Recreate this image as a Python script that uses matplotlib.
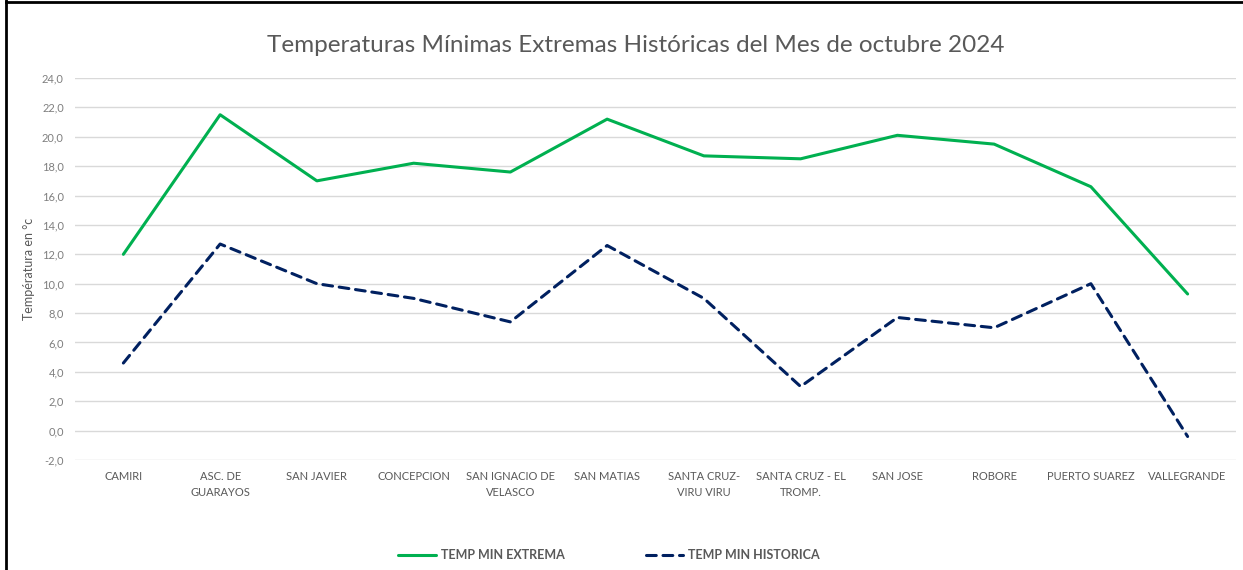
import matplotlib.pyplot as plt
import numpy as np

plt.rcParams['font.family'] = ['Lato', 'DejaVu Sans']

estaciones = ["CAMIRI", "ASC. DE\nGUARAYOS", "SAN JAVIER", "CONCEPCION",
              "SAN IGNACIO DE\nVELASCO", "SAN MATIAS", "SANTA CRUZ-\nVIRU VIRU",
              "SANTA CRUZ - EL\nTROMP.", "SAN JOSE", "ROBORE", "PUERTO SUAREZ",
              "VALLEGRANDE"]
temp_min_extrema = [12.0, 21.5, 17.0, 18.2, 17.6, 21.2, 18.7, 18.5, 20.1, 19.5, 16.6, 9.3]
temp_min_historica = [4.6, 12.7, 10.0, 9.0, 7.4, 12.6, 9.0, 3.0, 7.7, 7.0, 10.0, -0.4]

gris = "#595959"

fig = plt.figure(figsize=(12.43, 5.70), dpi=100)
ax = fig.add_axes([75/1243, 110/570, (1236-75)/1243, 382/570])

x = np.arange(len(estaciones))
ax.plot(x, temp_min_extrema, color="#00B050", lw=2.2, label="TEMP MIN EXTREMA",
        solid_capstyle="round")
ax.plot(x, temp_min_historica, color="#002060", lw=2.2, ls=(0, (3.2, 2.2)),
        label="TEMP MIN HISTORICA", dash_capstyle="round")

ax.set_xlim(-0.5, len(estaciones) - 0.5)
ax.set_ylim(-2, 24)
ax.set_yticks(np.arange(-2, 25, 2))
ax.set_yticklabels([f"{v:.1f}".replace(".", ",") for v in np.arange(-2, 25, 2)])
ax.set_xticks(x)
ax.set_xticklabels(estaciones, fontsize=8, color=gris, linespacing=1.5)
ax.tick_params(axis="y", labelsize=8, labelcolor="#7f7f7f", length=0, pad=8)
ax.tick_params(axis="x", length=0, pad=8)
ax.grid(axis="y", color="#D9D9D9", lw=1)
ax.set_axisbelow(True)
for s in ax.spines.values():
    s.set_visible(False)

ax.set_ylabel("Températura en °c", fontsize=9, color=gris, labelpad=5)

fig.text(636/1243, 1 - 45/570, "Temperaturas Mínimas Extremas Históricas del Mes de octubre 2024",
         ha="center", va="center", fontsize=17.5, color=gris)

leg = fig.legend(loc="center", bbox_to_anchor=(609/1243, 1 - 555/570), ncol=2,
                 frameon=False, handlelength=3.0, handletextpad=0.4,
                 columnspacing=6.5, prop={"weight": "bold", "size": 9})
for t in leg.get_texts():
    t.set_color(gris)

# marco del recuadro (arriba e izquierda)
fig.add_artist(plt.Line2D([6/1243, 1], [1 - 1.5/570, 1 - 1.5/570], color="black", lw=2))
fig.add_artist(plt.Line2D([6/1243, 6/1243], [0, 1], color="black", lw=2))

fig.savefig("out.png", dpi=100)
